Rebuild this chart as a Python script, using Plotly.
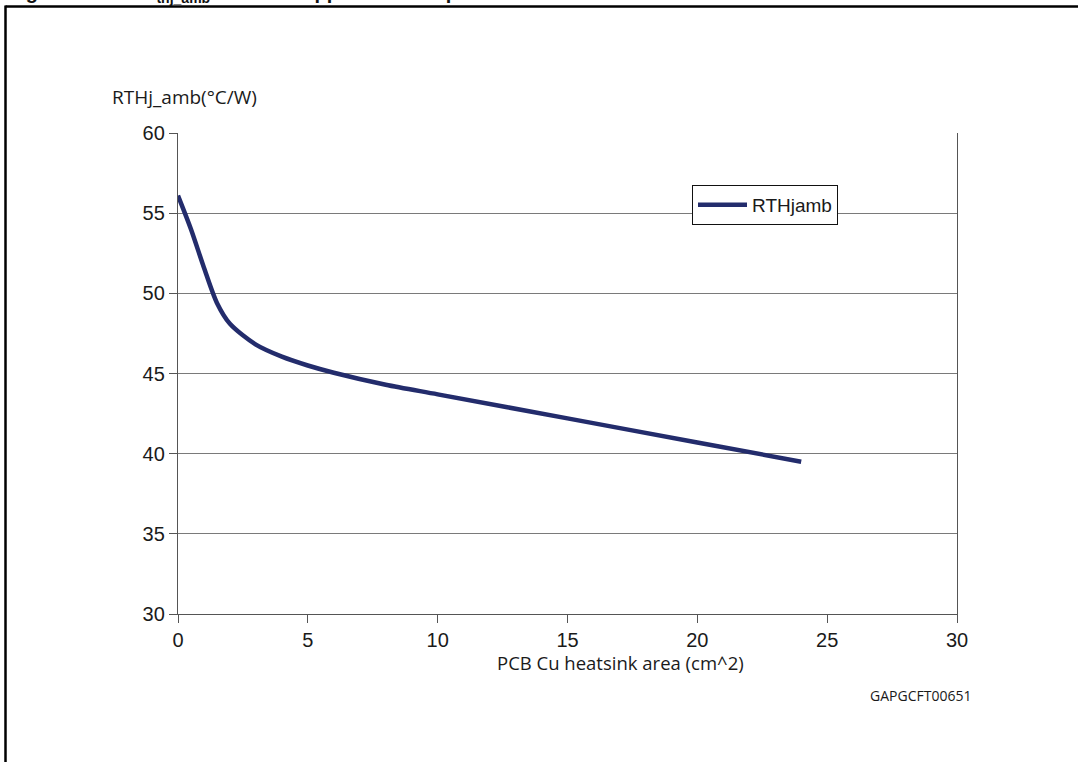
import plotly.graph_objects as go

# curve
area_cm2 = [0, 0.5, 1, 1.5, 2, 3, 4, 5, 6, 8, 10, 15, 20, 24]
rth_jamb = [56.1, 54.0, 51.6, 49.4, 48.1, 46.8, 46.05, 45.5, 45.05, 44.3, 43.7, 42.2, 40.7, 39.5]

x_ticks = [0, 5, 10, 15, 20, 25, 30]
y_ticks = [30, 35, 40, 45, 50, 55, 60]

W, H = 1078, 762
L, R, T, B = 178, 121, 133, 148
pw, ph = W - L - R, H - T - B


def px(x):
    # page pixel -> paper x
    return (x - L) / pw


def py(y):
    # page pixel -> paper y
    return (H - B - y) / ph


tick_font = dict(family="Liberation Sans, Arial", size=20, color="#1a1a1a")
label_font = dict(family="Open Sans, Noto Sans", size=19, color="#1a1a1a")

fig = go.Figure()
fig.add_trace(
    go.Scatter(
        x=area_cm2,
        y=rth_jamb,
        mode="lines",
        name="RTHjamb",
        line=dict(color="#232c6c", width=4.5, shape="spline", smoothing=0.8),
    )
)

fig.update_layout(
    width=W,
    height=H,
    margin=dict(l=L, r=R, t=T, b=B),
    paper_bgcolor="white",
    plot_bgcolor="white",
    showlegend=True,
    legend=dict(
        x=px(692),
        y=py(185),
        xanchor="left",
        yanchor="top",
        bgcolor="white",
        bordercolor="#111",
        borderwidth=1,
        font=dict(family="Liberation Sans, Arial", size=19, color="#1a1a1a"),
        itemwidth=49,
    ),
)

fig.update_xaxes(
    range=[0, 30],
    tickvals=x_ticks,
    showgrid=False,
    zeroline=False,
    showline=True,
    linecolor="#555",
    linewidth=1.3,
    ticks="outside",
    ticklen=8,
    tickcolor="#555",
    tickfont=tick_font,
)
fig.update_yaxes(
    range=[30, 60],
    tickvals=y_ticks,
    showgrid=True,
    gridcolor="#7a7a7a",
    gridwidth=1.2,
    zeroline=False,
    showline=True,
    mirror=True,
    linecolor="#555",
    linewidth=1.3,
    ticks="outside",
    ticklen=8,
    tickcolor="#555",
    tickfont=tick_font,
)

# axis titles and code
fig.add_annotation(
    text="RTHj_amb(°C/W)", xref="paper", yref="paper", x=px(110), y=py(97),
    xanchor="left", yanchor="middle", showarrow=False, font=label_font,
)
fig.add_annotation(
    text="PCB Cu heatsink area (cm^2)", xref="paper", yref="paper", x=px(495), y=py(662),
    xanchor="left", yanchor="middle", showarrow=False,
    font=dict(family="Open Sans, Noto Sans", size=18.5, color="#1a1a1a"),
)
fig.add_annotation(
    text="GAPGCFT00651", xref="paper", yref="paper", x=px(868), y=py(695),
    xanchor="left", yanchor="middle", showarrow=False,
    font=dict(family="Open Sans, Noto Sans", size=14, color="#1a1a1a"),
)

# caption cut off at the top of the page
title_font = dict(family="Liberation Sans, Arial", size=20, color="#111")
fig.add_annotation(
    text="<b>Figure 5.</b>", xref="paper", yref="paper", x=px(6), y=py(4.5),
    xanchor="left", yanchor="bottom", showarrow=False, font=title_font,
)
fig.add_annotation(
    text="<b>R<sub>thj_amb</sub> vs PCB copper area in open box free air condition</b>",
    xref="paper", yref="paper", x=px(140), y=py(8),
    xanchor="left", yanchor="bottom", showarrow=False, font=title_font,
)

# outer frame (top and left edges)
fig.add_shape(type="line", xref="paper", yref="paper", x0=px(5.5), x1=px(1090),
              y0=py(6.5), y1=py(6.5), line=dict(color="black", width=2.5))
fig.add_shape(type="line", xref="paper", yref="paper", x0=px(5.5), x1=px(5.5),
              y0=py(5.5), y1=py(780), line=dict(color="black", width=2.5))

# drop the default 8px body margin so the figure sits at the page corner
fig.write_html(
    "out.html",
    config={"displayModeBar": False},
    post_script="document.body.style.margin='0';",
)
